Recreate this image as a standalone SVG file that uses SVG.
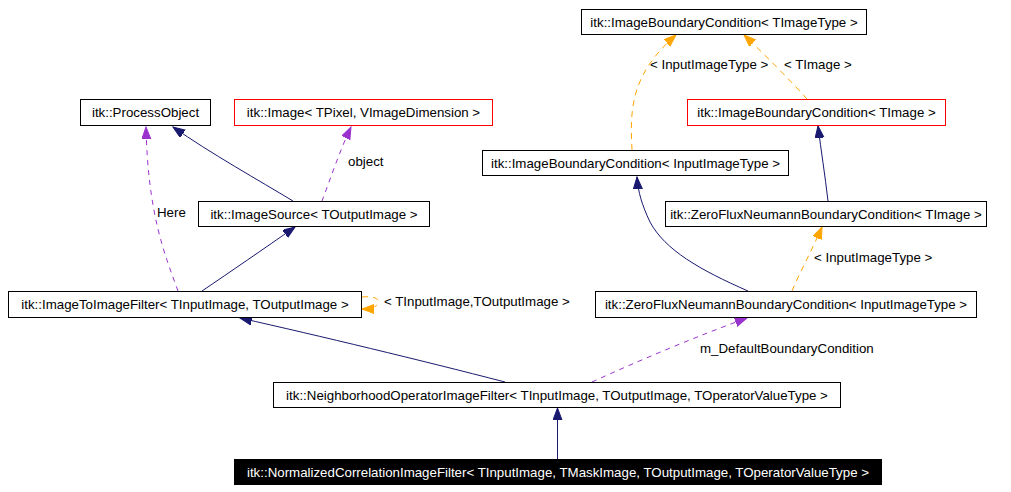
<svg xmlns="http://www.w3.org/2000/svg" width="1011" height="492" viewBox="0 0 1011 492">
<defs>
<style>
.box{fill:#fff;stroke:#000;stroke-width:1}
.red{fill:#fff;stroke:#ff0000;stroke-width:1}
.blk{fill:#000;stroke:#000;stroke-width:1}
text{font-family:"Liberation Sans",Arial,sans-serif;font-size:13.3px;fill:#000}
.t{text-anchor:middle}
.w{fill:#fff}
.inh{fill:none;stroke:#191970;stroke-width:1}
.use{fill:none;stroke:#9a32cd;stroke-width:1;stroke-dasharray:5,5}
.tpl{fill:none;stroke:#ffa500;stroke-width:1;stroke-dasharray:6,5}
</style>
<marker id="aInh" markerUnits="userSpaceOnUse" markerWidth="13" markerHeight="10" refX="12" refY="4.5" orient="auto"><path d="M0,0 L12,4.5 L0,9 z" fill="#191970" stroke="#191970"/></marker>
<marker id="aUse" markerUnits="userSpaceOnUse" markerWidth="13" markerHeight="10" refX="12" refY="4.5" orient="auto"><path d="M0,0 L12,4.5 L0,9 z" fill="#9a32cd" stroke="#9a32cd"/></marker>
<marker id="aTpl" markerUnits="userSpaceOnUse" markerWidth="13" markerHeight="10" refX="12" refY="4.5" orient="auto"><path d="M0,0 L12,4.5 L0,9 z" fill="#ffa500" stroke="#ffa500"/></marker>
</defs>
<rect width="1011" height="492" fill="#fff"/>
<g id="connectors">
<path class="inh" marker-end="url(#aInh)" d="M293,201 C260,181 210,153 173,127"/>
<path class="inh" marker-end="url(#aInh)" d="M202,291 C230,272 265,248 295,227"/>
<path class="use" marker-end="url(#aUse)" d="M178,291 C165,255 148,215 146,127"/>
<text x="157" y="217">Here</text>
<path class="use" marker-end="url(#aUse)" d="M322,201 C330,180 340,150 351,127"/>
<text x="348" y="166">object</text>
<path class="tpl" marker-end="url(#aTpl)" d="M362,297 C372,296 380,298 378,303 C377,307 370,309 362,309"/>
<text x="384" y="306">&lt; TInputImage,TOutputImage &gt;</text>
<path class="inh" marker-end="url(#aInh)" d="M505,382 C420,360 320,336 240,318"/>
<path class="use" marker-end="url(#aUse)" d="M592,382 C640,360 700,335 747,318"/>
<text x="700" y="353">m_DefaultBoundaryCondition</text>
<path class="inh" marker-end="url(#aInh)" d="M748,291 C700,270 665,250 650,222 C642,205 638,192 637,177"/>
<path class="tpl" marker-end="url(#aTpl)" d="M792,291 C800,272 812,250 822,227"/>
<text x="814" y="262">&lt; InputImageType &gt;</text>
<path class="inh" marker-end="url(#aInh)" d="M828,201 C825,175 821,150 818,126"/>
<path class="tpl" marker-end="url(#aTpl)" d="M807,99 C790,80 765,55 744,35"/>
<text x="784" y="69">&lt; TImage &gt;</text>
<path class="tpl" marker-end="url(#aTpl)" d="M632,150 C630,110 630,75 676,35"/>
<text x="650" y="69">&lt; InputImageType &gt;</text>
<path class="inh" marker-end="url(#aInh)" d="M557.5,459 L557.5,408"/>
</g>
<g id="n_po"><rect class="box" x="80.5" y="99.5" width="130" height="26"/><text class="t" x="145.5" y="117">itk::ProcessObject</text></g>
<g id="n_img"><rect class="red" x="234.5" y="99.5" width="258" height="26"/><text class="t" x="363.5" y="117">itk::Image&lt; TPixel, VImageDimension &gt;</text></g>
<g id="n_ibc_tt"><rect class="box" x="581.5" y="9.5" width="285" height="25"/><text class="t" x="724" y="26.5">itk::ImageBoundaryCondition&lt; TImageType &gt;</text></g>
<g id="n_ibc_ti"><rect class="red" x="687.5" y="99.5" width="258" height="26"/><text class="t" x="816.5" y="117">itk::ImageBoundaryCondition&lt; TImage &gt;</text></g>
<g id="n_ibc_iit"><rect class="box" x="482.5" y="150.5" width="306" height="25"/><text class="t" x="635.5" y="168">itk::ImageBoundaryCondition&lt; InputImageType &gt;</text></g>
<g id="n_src"><rect class="box" x="198.5" y="201.5" width="231" height="25"/><text class="t" x="314" y="219">itk::ImageSource&lt; TOutputImage &gt;</text></g>
<g id="n_zf_ti"><rect class="box" x="665.5" y="201.5" width="321" height="25"/><text class="t" x="826" y="219">itk::ZeroFluxNeumannBoundaryCondition&lt; TImage &gt;</text></g>
<g id="n_i2i"><rect class="box" x="8.5" y="291.5" width="353" height="26"/><text class="t" x="185" y="309">itk::ImageToImageFilter&lt; TInputImage, TOutputImage &gt;</text></g>
<g id="n_zf_iit"><rect class="box" x="595.5" y="291.5" width="381" height="26"/><text class="t" x="786" y="309">itk::ZeroFluxNeumannBoundaryCondition&lt; InputImageType &gt;</text></g>
<g id="n_nof"><rect class="box" x="273.5" y="382.5" width="567" height="25"/><text class="t" x="557" y="400">itk::NeighborhoodOperatorImageFilter&lt; TInputImage, TOutputImage, TOperatorValueType &gt;</text></g>
<g id="n_ncf"><rect class="blk" x="234.5" y="459.5" width="647" height="25"/><text class="t w" x="558" y="477">itk::NormalizedCorrelationImageFilter&lt; TInputImage, TMaskImage, TOutputImage, TOperatorValueType &gt;</text></g>
</svg>
